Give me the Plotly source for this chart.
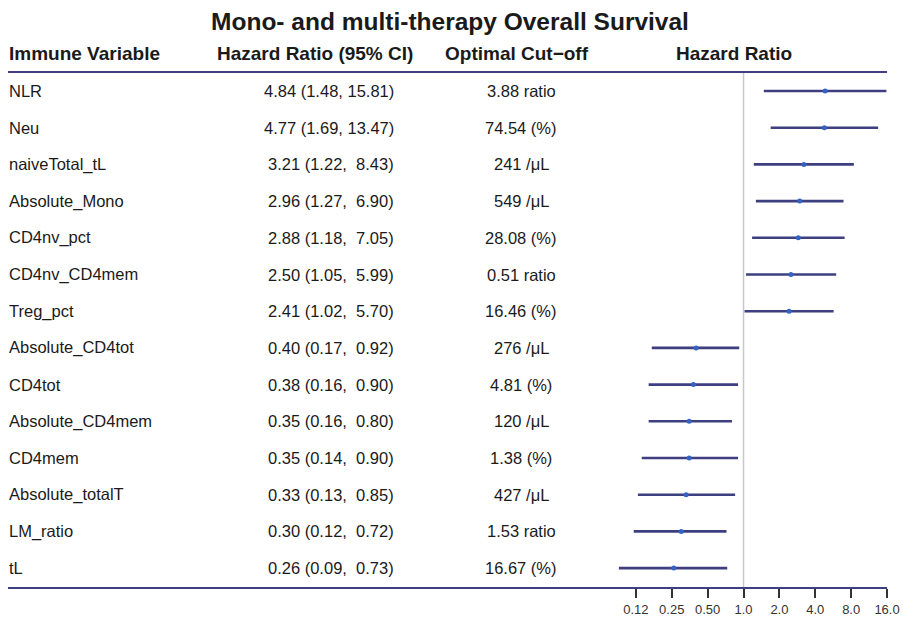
import math
import plotly.graph_objects as go

variables = ["NLR", "Neu", "naiveTotal_tL", "Absolute_Mono", "CD4nv_pct", "CD4nv_CD4mem",
             "Treg_pct", "Absolute_CD4tot", "CD4tot", "Absolute_CD4mem", "CD4mem",
             "Absolute_totalT", "LM_ratio", "tL"]
hr = [4.84, 4.77, 3.21, 2.96, 2.88, 2.50, 2.41, 0.40, 0.38, 0.35, 0.35, 0.33, 0.30, 0.26]
ci_low = [1.48, 1.69, 1.22, 1.27, 1.18, 1.05, 1.02, 0.17, 0.16, 0.16, 0.14, 0.13, 0.12, 0.09]
ci_high = [15.81, 13.47, 8.43, 6.90, 7.05, 5.99, 5.70, 0.92, 0.90, 0.80, 0.90, 0.85, 0.72, 0.73]
cutoffs = ["3.88 ratio", "74.54 (%)", "241 /μL", "549 /μL", "28.08 (%)", "0.51 ratio",
           "16.46 (%)", "276 /μL", "4.81 (%)", "120 /μL", "1.38 (%)", "427 /μL",
           "1.53 ratio", "16.67 (%)"]
tick_vals = [0.125, 0.25, 0.5, 1, 2, 4, 8, 16]
tick_text = ["0.12", "0.25", "0.50", "1.0", "2.0", "4.0", "8.0", "16.0"]
headers = ["Immune Variable", "Hazard Ratio (95% CI)", "Optimal Cut\u2212off", "Hazard Ratio"]
title = "Mono- and multi-therapy Overall Survival"

W, H = 903, 618
def PX(x):
    return x / W
def PY(y):
    return 1 - y / H

n = len(variables)
ys = [n - i for i in range(n)]  # NLR on top

row0_px, row_step = 91, 36.7
def px_to_y(py):
    return n + (row0_px - py) / row_step

ax_bottom_px = 588
top_line_px = 72
dom_left, dom_right = 600, 900
px_per_dbl = 36
one_px = 746
xr = [(dom_left - one_px) / px_per_dbl * math.log10(2),
      (dom_right - one_px) / px_per_dbl * math.log10(2)]

line_col = "#3d3f80"
pt_col = "#3563c4"
txt_col = "#1a1a1a"
font = "Liberation Sans, Arial, sans-serif"

fig = go.Figure()

lx, ly = [], []
for lo_, hi_, y in zip(ci_low, ci_high, ys):
    lx += [lo_, hi_, None]
    ly += [y, y, None]
fig.add_trace(go.Scatter(x=lx, y=ly, mode="lines", line=dict(color=line_col, width=2.6),
                         hoverinfo="skip", showlegend=False))
fig.add_trace(go.Scatter(x=hr, y=ys, mode="markers", marker=dict(color=pt_col, size=5),
                         showlegend=False))

def fmt_ci(h, l, u):
    return f"{h:.2f} ({l:.2f}, {u:5.2f})".replace(" ", "\u00a0")

body = dict(size=16.5, color=txt_col, family=font)
ann = []
for v, h, l, u, c, y in zip(variables, hr, ci_low, ci_high, cutoffs, ys):
    ann.append(dict(x=PX(7), y=y, xref="paper", yref="y", text=v, showarrow=False,
                    xanchor="left", yanchor="middle", font=body))
    ann.append(dict(x=PX(397), y=y, xref="paper", yref="y", text=fmt_ci(h, l, u), showarrow=False,
                    xanchor="right", yanchor="middle", font=body))
    ann.append(dict(x=PX(523), y=y, xref="paper", yref="y", text=c, showarrow=False,
                    xanchor="center", yanchor="middle", font=body))

hdr_x = [(7, "left"), (316, "center"), (519, "center"), (736, "center")]
for t, (hx, anc) in zip(headers, hdr_x):
    ann.append(dict(x=PX(hx), y=PY(54), xref="paper", yref="paper", text=f"<b>{t}</b>",
                    showarrow=False, xanchor=anc, yanchor="middle",
                    font=dict(size=19, color=txt_col, family=font)))

shapes = [
    dict(type="line", xref="paper", yref="paper", x0=PX(8), x1=PX(890),
         y0=PY(top_line_px), y1=PY(top_line_px), line=dict(color=line_col, width=2)),
    dict(type="line", xref="paper", yref="paper", x0=PX(8), x1=PX(890),
         y0=PY(ax_bottom_px), y1=PY(ax_bottom_px), line=dict(color=line_col, width=2)),
    dict(type="line", xref="x", yref="paper", x0=1, x1=1, y0=PY(ax_bottom_px), y1=PY(top_line_px),
         line=dict(color="#c8c8c8", width=1.5), layer="below"),
]

fig.update_layout(
    width=W, height=H, margin=dict(l=0, r=0, t=0, b=0),
    paper_bgcolor="white", plot_bgcolor="white",
    title=dict(text=f"<b>{title}</b>", x=PX(450), xanchor="center", y=PY(21), yanchor="middle",
               font=dict(size=24.5, color=txt_col, family=font)),
    xaxis=dict(type="log", domain=[PX(dom_left), PX(dom_right)], range=xr,
               tickvals=tick_vals, ticktext=tick_text, ticks="outside", ticklen=9, tickwidth=1.5,
               tickcolor="#333333", showgrid=False, zeroline=False, showline=False,
               ticklabeloverflow="allow",
               tickfont=dict(size=13, color="#333333", family=font)),
    yaxis=dict(domain=[PY(ax_bottom_px), 1], range=[px_to_y(ax_bottom_px), px_to_y(0)],
               showticklabels=False, showgrid=False, zeroline=False, showline=False),
    annotations=ann, shapes=shapes,
)

fig.write_html("out.html", config={"displayModeBar": False},
               post_script="document.body.style.margin='0';document.body.style.overflow='hidden';")
